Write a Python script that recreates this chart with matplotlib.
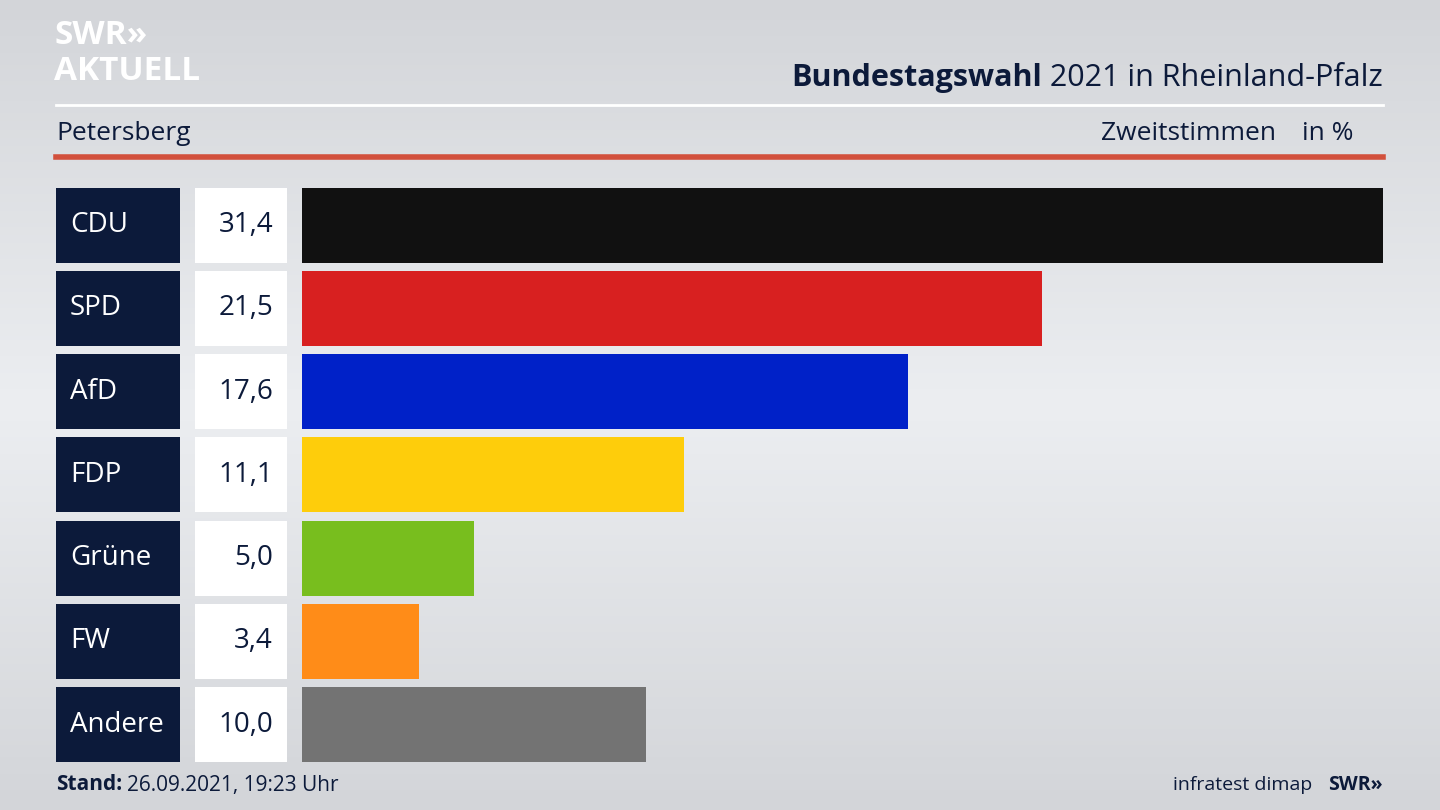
import matplotlib.pyplot as plt
from matplotlib.colors import LinearSegmentedColormap
import numpy as np

parties = ['CDU', 'SPD', 'AfD', 'FDP', 'Grüne', 'FW', 'Andere']
values = [31.4, 21.5, 17.6, 11.1, 5.0, 3.4, 10.0]
colors = ['#111111', '#d82020', '#0021c8', '#fecd0b', '#78be1e', '#ff8c18', '#737373']
value_labels = ['31,4', '21,5', '17,6', '11,1', '5,0', '3,4', '10,0']

plt.rcParams['font.family'] = 'Open Sans'
navy = '#0c1a3a'

fig = plt.figure(figsize=(14.4, 8.1), dpi=100)
bg = fig.add_axes([0, 0, 1, 1])
cmap = LinearSegmentedColormap.from_list('bg', ['#eceef1', '#d3d5d9'])
grad = np.abs(np.linspace(-1, 1, 200))[:, None] * np.ones((1, 2))
bg.imshow(grad, cmap=cmap, vmin=0, vmax=1, extent=[0, 1440, 810, 0], aspect='auto')
bg.set_xlim(0, 1440)
bg.set_ylim(810, 0)
bg.axis('off')

# header
bg.text(54, 36, 'SWR\u00bb', fontsize=24, fontweight='bold', color='white', va='center')
bg.text(54, 71, 'AKTUELL', fontsize=24, fontweight='bold', color='white', va='center')
t = bg.text(1383, 78, ' 2021 in Rheinland-Pfalz', fontsize=22, color=navy, ha='right', va='center')
fig.canvas.draw()
bb = t.get_window_extent().transformed(bg.transData.inverted())
bg.text(bb.x0, 78, 'Bundestagswahl', fontsize=22, fontweight='bold', color=navy,
        ha='right', va='center')
bg.plot([56, 1383], [105, 105], color='white', lw=2)
bg.text(56, 133, 'Petersberg', fontsize=19, color=navy, va='center')
bg.text(1276, 133, 'Zweitstimmen', fontsize=19, color=navy, va='center', ha='right')
bg.text(1354, 133, 'in %', fontsize=19, color=navy, va='center', ha='right')
bg.plot([56, 1383], [157, 157], color='#d2503c', lw=4)

# bars
start = 302
scale = (1383 - start) / max(values)
ys = 225 + 83.3 * np.arange(len(parties))
h = 75
bg.barh(ys, [124] * len(parties), left=56, height=h, color=navy)
bg.barh(ys, [92] * len(parties), left=195, height=h, color='white')
bg.barh(ys, np.array(values) * scale, left=start, height=h, color=colors)
for y, p, v in zip(ys, parties, value_labels):
    bg.text(70, y, p, fontsize=20, color='white', va='center')
    bg.text(273, y, v, fontsize=20, color=navy, va='center', ha='right')

# footer
bg.text(56, 785, 'Stand:', fontsize=15, fontweight='bold', color=navy, va='center')
bg.text(127, 785, '26.09.2021, 19:23 Uhr', fontsize=15, color=navy, va='center')
bg.text(1312, 785, 'infratest dimap', fontsize=14, color=navy, va='center', ha='right')
bg.text(1383, 785, 'SWR\u00bb', fontsize=14, fontweight='bold', color=navy, va='center', ha='right')

fig.savefig('out.png', dpi=100)
